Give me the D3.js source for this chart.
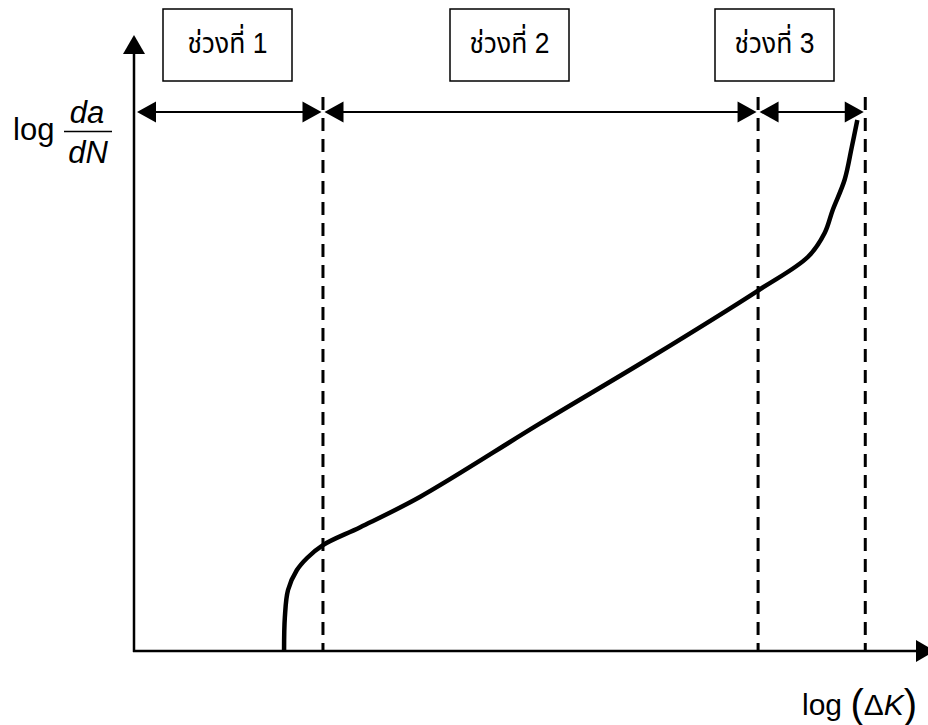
<!DOCTYPE html>
<html>
<head>
<meta charset="utf-8">
<script src="https://cdn.jsdelivr.net/npm/d3@7"></script>
<style>
  html, body { margin: 0; padding: 0; background: #fff; }
  svg { display: block; }
  text { font-family: "Liberation Sans", Arial, "Noto Sans Thai", "Noto Sans", "DejaVu Sans", sans-serif; fill: #000; }
</style>
</head>
<body>
<svg id="chart" width="928" height="725"></svg>
<script>
// Fatigue crack growth curve: log(da/dN) against log(ΔK), three regimes
const regionLabels = ["ช่วงที่ 1", "ช่วงที่ 2", "ช่วงที่ 3"];
// regime boundaries on the log(ΔK) axis (0 = vertical axis)
const regionBounds = [0, 23.8, 78.6, 92.1];
// crack growth curve
const curveX = [18.9, 19.0, 19.4, 20.5, 21.8, 23.8, 28.5, 36.0, 51.1, 65.0, 78.7, 84.9, 87.0, 88.0, 89.5, 90.4, 91.1];
const curveY = [0.0, 5.5, 9.9, 13.1, 15.1, 17.2, 20.1, 25.0, 36.9, 47.6, 58.6, 64.0, 67.9, 71.6, 76.5, 81.8, 86.2];

// layout
const W = 928, H = 725;
const boxLeft = [163, 450, 715];
const boxWidth = [129, 119, 119];
const boxTop = 9, boxHeight = 72;
const spanY = 112;      // height of the regime span arrows
const dashTop = 97;

const svg = d3.select("#chart");
const x = d3.scaleLinear().domain([0, 100]).range([134, 928]);
const y = d3.scaleLinear().domain([0, 100]).range([651, 35]);

const x0 = x(0), y0 = y(0);

// arrowhead helper: tip at (tx, ty), pointing in direction dir
function arrowHead(tx, ty, dir, len, half) {
  const [dx, dy] = dir;
  const px = -dy, py = dx;
  const bx = tx - dx * len, by = ty - dy * len;
  return `M${tx},${ty}L${bx + px * half},${by + py * half}L${bx - px * half},${by - py * half}Z`;
}

// regime boundary lines
svg.append("g").selectAll("line")
  .data(regionBounds.slice(1))
  .join("line")
  .attr("x1", d => x(d)).attr("x2", d => x(d))
  .attr("y1", dashTop).attr("y2", y0)
  .attr("stroke", "#000").attr("stroke-width", 3)
  .attr("stroke-dasharray", "13,8");

// axes
const axes = svg.append("g");
axes.append("line").attr("x1", x0).attr("x2", x0).attr("y1", y0 + 1).attr("y2", y(100) + 15)
  .attr("stroke", "#000").attr("stroke-width", 2.5);
axes.append("path").attr("d", arrowHead(x0, y(100), [0, -1], 19, 11)).attr("fill", "#000");
axes.append("line").attr("x1", x0 - 1).attr("x2", 920).attr("y1", y0).attr("y2", y0)
  .attr("stroke", "#000").attr("stroke-width", 2.5);
axes.append("path").attr("d", arrowHead(935, y0, [1, 0], 19, 11)).attr("fill", "#000");

// span arrows for each regime
const spans = svg.append("g");
regionLabels.forEach((lab, i) => {
  const a = x(regionBounds[i]) + (i === 0 ? 3 : 1.5);
  const b = x(regionBounds[i + 1]) - 1.5;
  spans.append("line").attr("x1", a + 10).attr("x2", b - 10).attr("y1", spanY).attr("y2", spanY)
    .attr("stroke", "#000").attr("stroke-width", 2);
  spans.append("path").attr("d", arrowHead(a, spanY, [-1, 0], 19, 10.5)).attr("fill", "#000");
  spans.append("path").attr("d", arrowHead(b, spanY, [1, 0], 19, 10.5)).attr("fill", "#000");
});

// regime boxes
const boxes = svg.append("g").selectAll("g")
  .data(regionLabels)
  .join("g");
boxes.append("rect")
  .attr("x", (d, i) => boxLeft[i]).attr("y", boxTop)
  .attr("width", (d, i) => boxWidth[i]).attr("height", boxHeight)
  .attr("fill", "#fff").attr("stroke", "#000").attr("stroke-width", 1.5);
boxes.append("text")
  .attr("transform", (d, i) => `translate(${boxLeft[i] + boxWidth[i] / 2},53) scale(1,1.15)`)
  .attr("text-anchor", "middle")
  .attr("font-size", 25)
  .attr("textLength", 80)
  .attr("lengthAdjust", "spacingAndGlyphs")
  .text(d => d);

// growth curve
const line = d3.line()
  .x(d => x(d[0])).y(d => y(d[1]))
  .curve(d3.curveCatmullRom.alpha(0.5));
svg.append("path")
  .datum(curveX.map((v, i) => [v, curveY[i]]))
  .attr("d", line)
  .attr("fill", "none").attr("stroke", "#000").attr("stroke-width", 4.5)
  .attr("stroke-linejoin", "round");

// y-axis label: log da/dN
const yl = svg.append("g");
yl.append("text").attr("x", 13).attr("y", 140).attr("font-size", 31).text("log");
yl.append("text").attr("x", 87).attr("y", 123).attr("font-size", 31).attr("font-style", "italic")
  .attr("text-anchor", "middle").text("da");
yl.append("line").attr("x1", 64).attr("x2", 112).attr("y1", 131.5).attr("y2", 131.5)
  .attr("stroke", "#000").attr("stroke-width", 1.5);
yl.append("text").attr("x", 88).attr("y", 163).attr("font-size", 31).attr("font-style", "italic")
  .attr("text-anchor", "middle").text("dN");

// x-axis label: log(ΔK)
const xl = svg.append("text").attr("x", 802).attr("y", 715).attr("font-size", 30);
xl.append("tspan").text("log ");
xl.append("tspan").attr("font-size", 40).attr("dy", 3).text("(");
xl.append("tspan").attr("font-size", 30).attr("dy", -3).text("Δ");
xl.append("tspan").attr("font-style", "italic").text("K");
xl.append("tspan").attr("font-size", 40).attr("dy", 3).text(")");
</script>
</body>
</html>
